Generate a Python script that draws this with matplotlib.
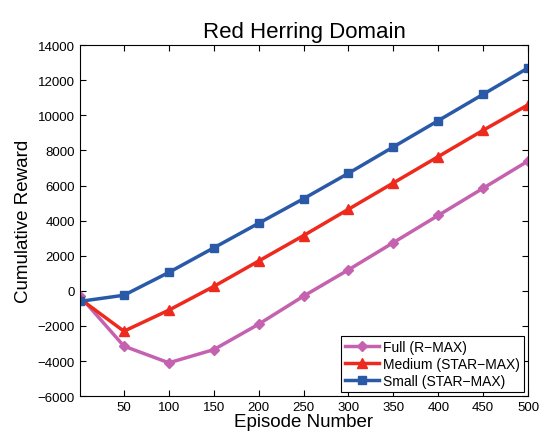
import matplotlib
matplotlib.use("Agg")
import matplotlib.pyplot as plt

# episode numbers and cumulative reward
episodes = [1, 50, 100, 150, 200, 250, 300, 350, 400, 450, 500]
full_rmax = [-300, -3150, -4100, -3350, -1900, -300, 1200, 2750, 4300, 5850, 7400]
medium_star = [-450, -2300, -1100, 250, 1700, 3150, 4650, 6150, 7650, 9150, 10600]
small_star = [-600, -250, 1050, 2450, 3850, 5250, 6700, 8200, 9700, 11200, 12700]

xticks = [50, 100, 150, 200, 250, 300, 350, 400, 450, 500]
yticks = list(range(-6000, 14001, 2000))

plt.rcParams['font.family'] = ['Liberation Sans', 'DejaVu Sans']

fig = plt.figure(figsize=(5.4, 4.35), dpi=100)
ax = fig.add_axes([0.148, 0.087, 0.83, 0.807])

ax.plot(episodes, full_rmax, color='#C462B0', lw=2.5, marker='D', ms=5.5,
        label='Full (R\u2212MAX)')
ax.plot(episodes, medium_star, color='#EE2A1E', lw=2.5, marker='^', ms=7,
        label='Medium (STAR\u2212MAX)')
ax.plot(episodes, small_star, color='#2A59A8', lw=2.5, marker='s', ms=5.5,
        label='Small (STAR\u2212MAX)')

ax.set_xlim(1, 500)
ax.set_ylim(-6000, 14000)
ax.set_xticks(xticks)
ax.set_yticks(yticks)
ax.tick_params(direction='in', top=True, right=True, labelsize=9.5, length=4)
for s in ax.spines.values():
    s.set_linewidth(0.8)

ax.set_title('Red Herring Domain', fontsize=16, pad=6)
ax.set_xlabel('Episode Number', fontsize=13.5, labelpad=0)
ax.set_ylabel('Cumulative Reward', fontsize=13.5, labelpad=4)

leg = ax.legend(loc='lower right', fontsize=10, fancybox=False, framealpha=1,
                edgecolor='black', handlelength=2.4, borderpad=0.3,
                labelspacing=0.2, handletextpad=0.3, borderaxespad=0.3)
leg.get_frame().set_linewidth(0.8)

fig.savefig('out.png', dpi=100)
